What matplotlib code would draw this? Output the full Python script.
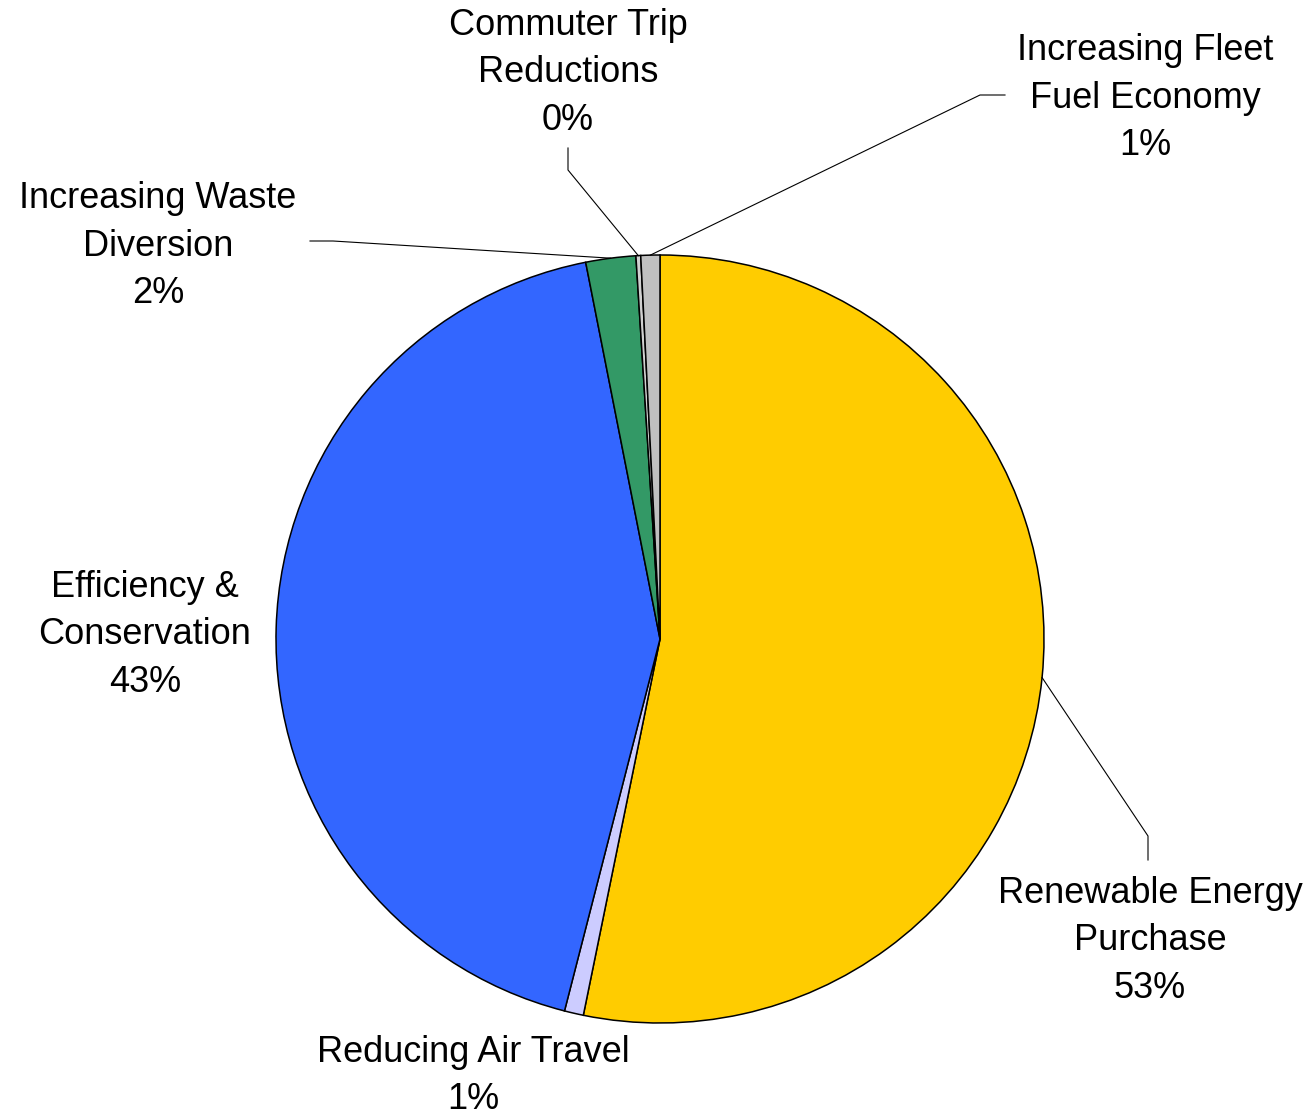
import matplotlib.pyplot as plt
import numpy as np

plt.rcParams['font.family'] = ['Liberation Sans', 'DejaVu Sans']

# slice data, clockwise from 12 o'clock
categories = ['Renewable Energy\nPurchase', 'Reducing Air Travel', 'Efficiency &\nConservation',
              'Increasing Waste\nDiversion', 'Commuter Trip\nReductions', 'Increasing Fleet\nFuel Economy']
shares = [53.2, 0.8, 42.9, 2.1, 0.2, 0.8]
pct_labels = ['53%', '1%', '43%', '2%', '0%', '1%']
colors = ['#FFCC00', '#CCCCFF', '#3366FF', '#339966', '#D0D0D0', '#C0C0C0']

W, H = 1312, 1119
fig = plt.figure(figsize=(W / 100, H / 100), dpi=100)
ax = fig.add_axes([0, 0, 1, 1])

cx, cy, R = 660, H - 639, 384
wedges, _ = ax.pie(shares, colors=colors, startangle=90, counterclock=False,
                   center=(cx, cy), radius=R, frame=True,
                   wedgeprops=dict(edgecolor='black', linewidth=1.1))
ax.set_xlim(0, W)
ax.set_ylim(0, H)
ax.set_aspect('equal')
ax.axis('off')

# label text centres (pixels from top-left) and optional elbow for leader line
label_pos = [(1150, 941), (473, 1076), (145, 635), (158, 246), (568, 73), (1145, 98)]
elbows = [[(1148, 860), (1148, 836)], None, None, [(310, 241), (333, 241)],
          [(568, 148), (568, 170)], [(1005, 95), (980, 95)]]

for w, cat, pct, (lx, ly), elb in zip(wedges, categories, pct_labels, label_pos, elbows):
    ax.text(lx, H - ly, cat + '\n' + pct, ha='center', va='center', fontsize=26,
            linespacing=1.48, color='black')
    if elb is None:
        continue
    mid = np.deg2rad((w.theta1 + w.theta2) / 2)
    ax_x = cx + R * np.cos(mid)
    ax_y = cy + R * np.sin(mid)
    xs = [p[0] for p in elb] + [ax_x]
    ys = [H - p[1] for p in elb] + [ax_y]
    ax.plot(xs, ys, color='black', linewidth=0.8)

fig.savefig('out.png', dpi=100)
